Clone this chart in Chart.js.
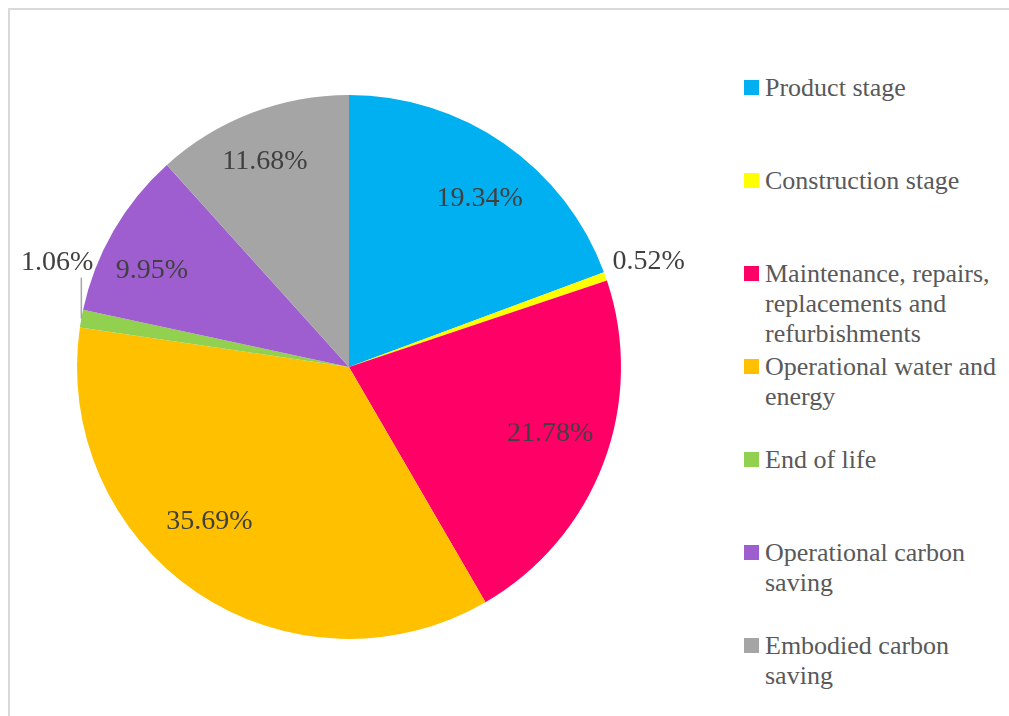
<!DOCTYPE html>
<html>
<head>
<meta charset="utf-8">
<script src="https://cdn.jsdelivr.net/npm/chart.js@4.4.1/dist/chart.umd.min.js"></script>
<style>
    body { margin: 0; background: #fff; width: 1009px; height: 716px; overflow: hidden; position: relative; }
    .cadre { position: absolute; left: 8px; top: 8px; width: 1100px; height: 800px; border-left: 2px solid #d9d9d9; border-top: 2px solid #d9d9d9; }
    .zone { position: absolute; left: 0; top: 0; width: 700px; height: 716px; }
    .legende { position: absolute; left: 744px; top: 73px; font-family: 'Liberation Serif', 'Tinos', 'DejaVu Serif', serif; font-size: 26px; color: #595959; }
    .legende div { position: absolute; left: 0; white-space: nowrap; line-height: 30px; }
    .legende span.carre { position: absolute; left: 0; top: 7px; width: 15px; height: 15px; }
    .legende span.texte { display: block; margin-left: 21px; }
</style>
</head>
<body>
<div class="cadre"></div>
<div class="zone"><canvas id="graphique-camembert"></canvas></div>
<div class="legende"></div>
<script>
const categories = [
    ['Product stage'],
    ['Construction stage'],
    ['Maintenance, repairs,', 'replacements and', 'refurbishments'],
    ['Operational water and', 'energy'],
    ['End of life'],
    ['Operational carbon', 'saving'],
    ['Embodied carbon', 'saving'],
];
const valeurs = [19.34, 0.52, 21.78, 35.69, 1.06, 9.95, 11.68];
const etiquettes = ['19.34%', '0.52%', '21.78%', '35.69%', '1.06%', '9.95%', '11.68%'];
const couleurs = ['#00b0f0', '#ffff00', '#ff0066', '#ffc000', '#92d050', '#9e5ecf', '#a5a5a5'];

const policeSerif = '"Liberation Serif", Tinos, "DejaVu Serif", serif';

// etiquettes dessinees a la main (pas de plugin datalabels dispo)
const pluginEtiquettes = {
    id: 'etiquettes',
    afterDatasetsDraw(chart, args, opts) {
        const ctx = chart.ctx;
        const meta = chart.getDatasetMeta(0);
        const decalages = opts.decalages || [];
        ctx.save();
        ctx.font = '28px ' + policeSerif;
        ctx.fillStyle = '#404040';
        for (let i = 0; i < meta.data.length; i++) {
            const arc = meta.data[i];
            const milieu = (arc.startAngle + arc.endAngle) / 2;
            if (valeurs[i] > 5) {
                const r = arc.outerRadius * 0.79;
                const d = decalages[i] || [0, 0];
                ctx.textAlign = 'center';
                ctx.textBaseline = 'middle';
                ctx.fillText(etiquettes[i], arc.x + Math.cos(milieu) * r + d[0], arc.y + Math.sin(milieu) * r + d[1]);
            } else {
                const bx = arc.x + Math.cos(milieu) * arc.outerRadius;
                const by = arc.y + Math.sin(milieu) * arc.outerRadius;
                if (Math.cos(milieu) > 0) {
                    ctx.textAlign = 'left';
                    ctx.textBaseline = 'middle';
                    ctx.fillText(etiquettes[i], bx + 7, by - 15);
                } else {
                    ctx.strokeStyle = '#a6a6a6';
                    ctx.lineWidth = 1.5;
                    ctx.beginPath();
                    ctx.moveTo(bx, by);
                    ctx.lineTo(bx, by - 41);
                    ctx.stroke();
                    ctx.textAlign = 'right';
                    ctx.textBaseline = 'bottom';
                    ctx.fillText(etiquettes[i], bx + 12, by - 42);
                }
            }
        }
        ctx.restore();
    },
};

const data = {
    labels: categories,
    datasets: [
        {
            data: valeurs,
            backgroundColor: couleurs,
            borderWidth: 0,
        },
    ],
};

const config = {
    type: 'pie',
    data: data,
    options: {
        responsive: true,
        maintainAspectRatio: false,
        animation: false,
        layout: {
            padding: { left: 77, top: 95, right: 79, bottom: 77 },
        },
        plugins: {
            legend: { display: false },
            tooltip: { enabled: false },
            etiquettes: {
                decalages: [[8, 8], null, [0, -9], [-19, -23], null, [-11, 11], [-7, -5]],
            },
        },
    },
    plugins: [pluginEtiquettes],
};
new Chart(document.querySelector('#graphique-camembert'), config);

// legende HTML a droite
const legende = document.querySelector('.legende');
for (let i = 0; i < categories.length; i++) {
    const item = document.createElement('div');
    item.style.top = (i * 93) + 'px';
    item.innerHTML = `<span class="carre" style="background:${couleurs[i]}"></span><span class="texte">${categories[i].join('<br>')}</span>`;
    legende.appendChild(item);
}
</script>
</body>
</html>
